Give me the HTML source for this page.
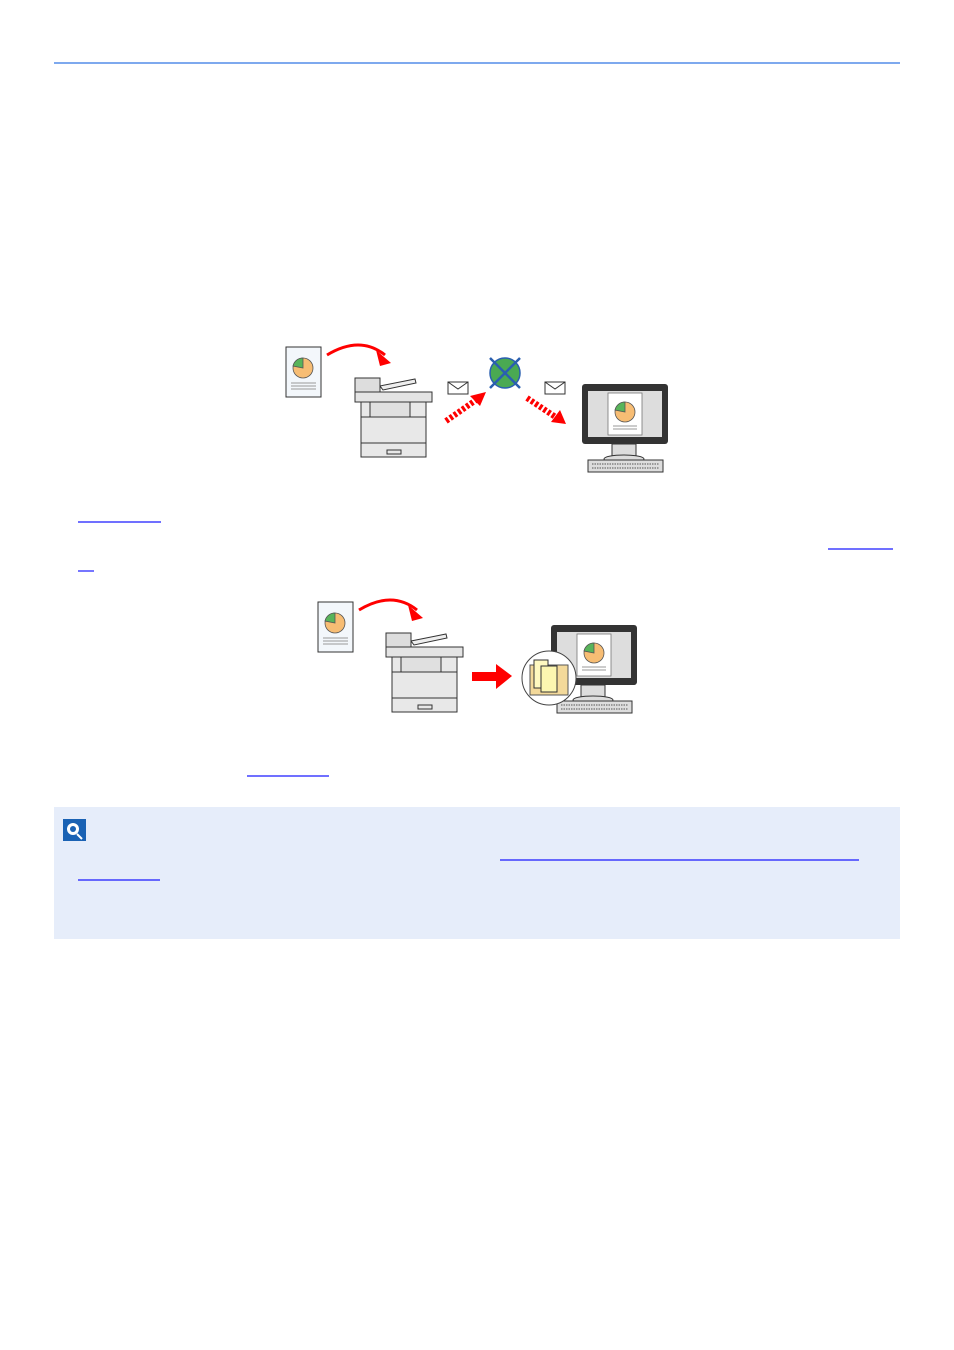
<!DOCTYPE html>
<html><head><meta charset="utf-8"><style>
body{margin:0;background:#fff;width:954px;height:1350px;overflow:hidden;font-family:"Liberation Sans",sans-serif}
</style></head><body>
<svg width="954" height="1350" xmlns="http://www.w3.org/2000/svg" style="position:absolute;left:0;top:0">
<defs>
<g id="doc">
 <rect x="0" y="0" width="35" height="50" fill="#f3f7fb" stroke="#333" stroke-width="1"/>
 <circle cx="17" cy="21" r="10" fill="#f7bd74" stroke="#555" stroke-width="0.8"/>
 <path d="M17 21 L17 11 A10 10 0 0 0 7 19 Z" fill="#58b45a" stroke="#555" stroke-width="0.8"/>
 <line x1="5" y1="36" x2="30" y2="36" stroke="#999" stroke-width="1"/>
 <line x1="5" y1="39" x2="30" y2="39" stroke="#999" stroke-width="1"/>
 <line x1="5" y1="42" x2="30" y2="42" stroke="#999" stroke-width="1"/>
</g>
<g id="printer">
 <path d="M25 10 L60 3 L61 7 L28 14 Z" fill="#eee" stroke="#333" stroke-width="1"/>
 <rect x="0" y="2" width="25" height="16" fill="#ddd" stroke="#333" stroke-width="1"/>
 <rect x="0" y="16" width="77" height="10" fill="#e4e4e4" stroke="#333" stroke-width="1"/>
 <rect x="6" y="26" width="65" height="55" fill="#e8e8e8" stroke="#333" stroke-width="1"/>
 <rect x="15" y="26" width="40" height="15" fill="#e0e0e0" stroke="#333" stroke-width="1"/>
 <line x1="6" y1="41" x2="71" y2="41" stroke="#333"/>
 <line x1="6" y1="67" x2="71" y2="67" stroke="#333"/>
 <rect x="32" y="74" width="14" height="4" fill="none" stroke="#333"/>
</g>
<g id="monitor">
 <rect x="0" y="0" width="86" height="60" rx="3" fill="#333"/>
 <rect x="6" y="7" width="74" height="46" fill="#ddd"/>
 <rect x="26" y="9" width="34" height="42" fill="#fff" stroke="#777" stroke-width="0.8"/>
 <circle cx="43" cy="28" r="10" fill="#f7bd74" stroke="#555" stroke-width="0.8"/>
 <path d="M43 28 L43 18 A10 10 0 0 0 33 26 Z" fill="#58b45a" stroke="#555" stroke-width="0.8"/>
 <line x1="31" y1="42" x2="55" y2="42" stroke="#999"/><line x1="31" y1="45" x2="55" y2="45" stroke="#999"/>
 <rect x="30" y="60" width="24" height="14" fill="#ddd" stroke="#333"/>
 <ellipse cx="42" cy="75" rx="20" ry="4" fill="#ddd" stroke="#333"/>
 <rect x="6" y="76" width="75" height="12" fill="#ddd" stroke="#333"/>
 <line x1="10" y1="80" x2="77" y2="80" stroke="#555" stroke-dasharray="1.5 1"/>
 <line x1="10" y1="84" x2="77" y2="84" stroke="#555" stroke-dasharray="1.5 1"/>
</g>
<g id="env"><rect x="0" y="0" width="20" height="12" fill="#fff" stroke="#333"/><path d="M0 0 L10 7 L20 0" fill="none" stroke="#333"/></g>
</defs>
<line x1="54" y1="63" x2="900" y2="63" stroke="#7ea9ee" stroke-width="2"/>
<!-- diagram 1 -->
<use href="#doc" x="286" y="347"/>
<path d="M327 355 Q360 335 385 355" fill="none" stroke="#f00" stroke-width="3"/>
<path d="M376 350 L391 363 L380 366 Z" fill="#f00"/>
<use href="#printer" x="355" y="376"/>
<use href="#env" x="448" y="382"/><use href="#env" x="545" y="382"/>
<path d="M446 421 L476 400" stroke="#f00" stroke-width="6" stroke-dasharray="3 2"/>
<path d="M470 396 L486 392 L480 406 Z" fill="#f00"/>
<path d="M527 398 L557 418" stroke="#f00" stroke-width="6" stroke-dasharray="3 2"/>
<path d="M551 422 L566 424 L560 410 Z" fill="#f00"/>
<circle cx="505" cy="373" r="15" fill="#4aa952" stroke="#2a5fb0" stroke-width="1.5"/>
<path d="M490 358 L520 388 M520 358 L490 388" stroke="#2a5fb0" stroke-width="2.5"/>
<use href="#monitor" x="582" y="384"/>
<!-- diagram 2 -->
<use href="#doc" x="318" y="602"/>
<path d="M359 610 Q392 590 417 610" fill="none" stroke="#f00" stroke-width="3"/>
<path d="M408 605 L423 618 L412 621 Z" fill="#f00"/>
<use href="#printer" x="386" y="631"/>
<rect x="472" y="672" width="24" height="9" fill="#f00"/>
<path d="M496 664 L512 676 L496 689 Z" fill="#f00"/>
<use href="#monitor" x="551" y="625"/>
<circle cx="549" cy="678" r="27" fill="#fff" stroke="#444"/>
<rect x="530" y="665" width="38" height="30" fill="#f3d99a" stroke="#555"/>
<rect x="534" y="660" width="14" height="28" fill="#fff9c0" stroke="#333"/>
<rect x="541" y="666" width="16" height="26" fill="#fcf6b0" stroke="#333"/>
<!-- underlines -->
<g stroke="#1a1aff" stroke-width="1.2">
<line x1="78" y1="522" x2="161" y2="522"/>
<line x1="828" y1="549" x2="893" y2="549"/>
<line x1="78" y1="571" x2="94" y2="571"/>
<line x1="247" y1="776" x2="329" y2="776"/>
</g>
<rect x="54" y="807" width="846" height="132" fill="#e6edfa"/>
<rect x="63" y="819" width="23" height="22" fill="#1a62b4"/>
<circle cx="73" cy="829" r="6" fill="#fff"/><circle cx="73" cy="829" r="3" fill="#1a62b4"/>
<line x1="77" y1="834" x2="82" y2="839" stroke="#fff" stroke-width="2"/>
<g stroke="#1a1aff" stroke-width="1.2">
<line x1="500" y1="860" x2="859" y2="860"/>
<line x1="78" y1="880" x2="160" y2="880"/>
</g>
</svg>
</body></html>
